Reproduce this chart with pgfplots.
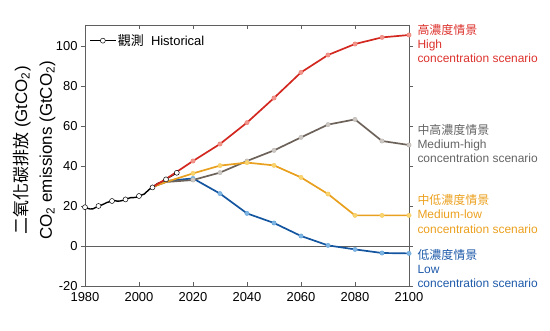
\documentclass[border=0pt]{standalone}
\usepackage{pgfplots}
\pgfplotsset{compat=1.18}
\usepackage{fontspec}
\setmainfont{Liberation Sans}
\newfontfamily\cjk{Noto Sans CJK TC}
\definecolor{hred}{RGB}{210,40,32}
\definecolor{hredf}{RGB}{242,150,140}
\definecolor{hredt}{RGB}{220,50,45}
\definecolor{mgray}{RGB}{108,98,90}
\definecolor{mgrayf}{RGB}{205,200,195}
\definecolor{mgrayt}{RGB}{100,100,100}
\definecolor{morange}{RGB}{232,160,30}
\definecolor{morangef}{RGB}{250,212,110}
\definecolor{moranget}{RGB}{235,160,30}
\definecolor{lblue}{RGB}{20,85,160}
\definecolor{lbluef}{RGB}{125,182,228}
\definecolor{lbluet}{RGB}{30,90,170}
\definecolor{axgray}{RGB}{95,95,95}
\begin{document}
\begin{tikzpicture}
\begin{axis}[
  scale only axis, width=324bp, height=261bp,
  xmin=1980, xmax=2100, ymin=-20, ymax=110.5,
  xtick={1980,2000,...,2100}, ytick={-20,0,...,100},
  xtick align=inside, ytick align=outside,
  xtick pos=both, ytick pos=both,
  yticklabel pos=left, xticklabel pos=bottom,
  major tick length=4bp,
  axis line style={axgray, line width=0.6pt},
  tick style={axgray, line width=0.6pt},
  tick label style={font=\fontsize{13}{15}\selectfont},
  xticklabel style={yshift=-3bp},
  /pgf/number format/assume math mode=true,
  /pgf/number format/1000 sep={},
  ylabel={{\cjk 二氧化碳排放} (GtCO\textsubscript{2})\\CO\textsubscript{2} emissions (GtCO\textsubscript{2})},
  ylabel style={at={(axis description cs:-0.157,0.52)}, anchor=center, align=center, font=\fontsize{17}{25}\selectfont},
  clip=false,
  legend style={draw=none, fill=none, at={(axis description cs:0.005,0.94)}, anchor=west, font=\fontsize{13}{15}\selectfont},
  legend cell align=left,
  legend image code/.code={\draw[#1,mark indices={2},line width=0.6pt] plot coordinates {(0cm,0cm)(0.45cm,0cm)(0.9cm,0cm)};},
]
\draw[axgray, line width=0.6pt] (axis cs:1980,0) -- (axis cs:2100,0);
% Historical
\addplot[black, line width=1.4pt, mark=*, mark size=2.5pt, mark options={fill=white, draw=black, line width=0.5pt},
  mark indices={1,6,11,16,21,26,31,35}] coordinates {
(1980,19.4)(1981,18.8)(1982,18.5)(1983,18.6)(1984,19.3)(1985,20.0)(1986,20.4)(1987,21.0)(1988,21.7)(1989,22.1)
(1990,22.5)(1991,22.7)(1992,22.4)(1993,22.5)(1994,22.8)(1995,23.3)(1996,23.8)(1997,24.2)(1998,24.2)(1999,24.4)
(2000,25.0)(2001,25.5)(2002,26.0)(2003,27.3)(2004,28.5)(2005,29.3)(2006,30.4)(2007,31.3)(2008,31.8)(2009,31.4)
(2010,33.3)(2011,34.3)(2012,35.0)(2013,35.8)(2014,36.6)};
\addlegendentry{{\cjk 觀測}\ \ Historical}
% Scenarios
\addplot[lblue, line width=1.7pt, mark=*, mark size=2.2pt, mark options={fill=lbluef, draw=lbluef!80!lblue, line width=0.4pt},
  mark indices={3,4,5,6,7,8,9,10,11,12}, forget plot] coordinates {
(2005,29.5)(2010,32.5)(2020,33.8)(2030,26.2)(2040,16.3)(2050,11.5)(2060,5.0)(2070,0.3)(2080,-1.7)(2090,-3.5)(2100,-3.7)};
\addplot[mgray, line width=1.7pt, mark=*, mark size=2.2pt, mark options={fill=mgrayf, draw=mgrayf!80!mgray, line width=0.4pt},
  mark indices={3,4,5,6,7,8,9,10,11,12}, forget plot] coordinates {
(2005,29.5)(2010,32.0)(2020,33.0)(2030,36.7)(2040,42.5)(2050,47.8)(2060,54.3)(2070,60.7)(2080,63.3)(2090,52.5)(2100,50.5)};
\addplot[morange, line width=1.7pt, mark=*, mark size=2.2pt, mark options={fill=morangef, draw=morangef!80!morange, line width=0.4pt},
  mark indices={3,4,5,6,7,8,9,10,11,12}, forget plot] coordinates {
(2005,29.5)(2010,32.0)(2020,36.3)(2030,40.2)(2040,41.7)(2050,40.3)(2060,34.3)(2070,26.0)(2080,15.3)(2090,15.3)(2100,15.3)};
\addplot[hred, line width=1.7pt, mark=*, mark size=2.2pt, mark options={fill=hredf, draw=hredf!80!hred, line width=0.4pt},
  mark indices={3,4,5,6,7,8,9,10,11,12}, forget plot] coordinates {
(2005,29.5)(2010,33.5)(2020,42.5)(2030,51.0)(2040,61.7)(2050,74.0)(2060,86.8)(2070,95.5)(2080,101.0)(2090,104.3)(2100,105.5)};
% right labels
\node[anchor=west, xshift=5bp, align=left, text=hredt, font=\fontsize{12}{14.4}\selectfont] at (axis cs:2100,101.3)
  {{\cjk 高濃度情景}\\High\\concentration scenario};
\node[anchor=west, xshift=5bp, align=left, text=mgrayt, font=\fontsize{12}{14.4}\selectfont] at (axis cs:2100,51.3)
  {{\cjk 中高濃度情景}\\Medium-high\\concentration scenario};
\node[anchor=west, xshift=5bp, align=left, text=moranget, font=\fontsize{12}{14.4}\selectfont] at (axis cs:2100,16.0)
  {{\cjk 中低濃度情景}\\Medium-low\\concentration scenario};
\node[anchor=west, xshift=5bp, align=left, text=lbluet, font=\fontsize{12}{14.4}\selectfont] at (axis cs:2100,-11.2)
  {{\cjk 低濃度情景}\\Low\\concentration scenario};
\end{axis}
\path ([shift={(-85bp,-45bp)}]current axis.south west) rectangle ([shift={(465bp,286bp)}]current axis.south west);
\end{tikzpicture}
\end{document}
